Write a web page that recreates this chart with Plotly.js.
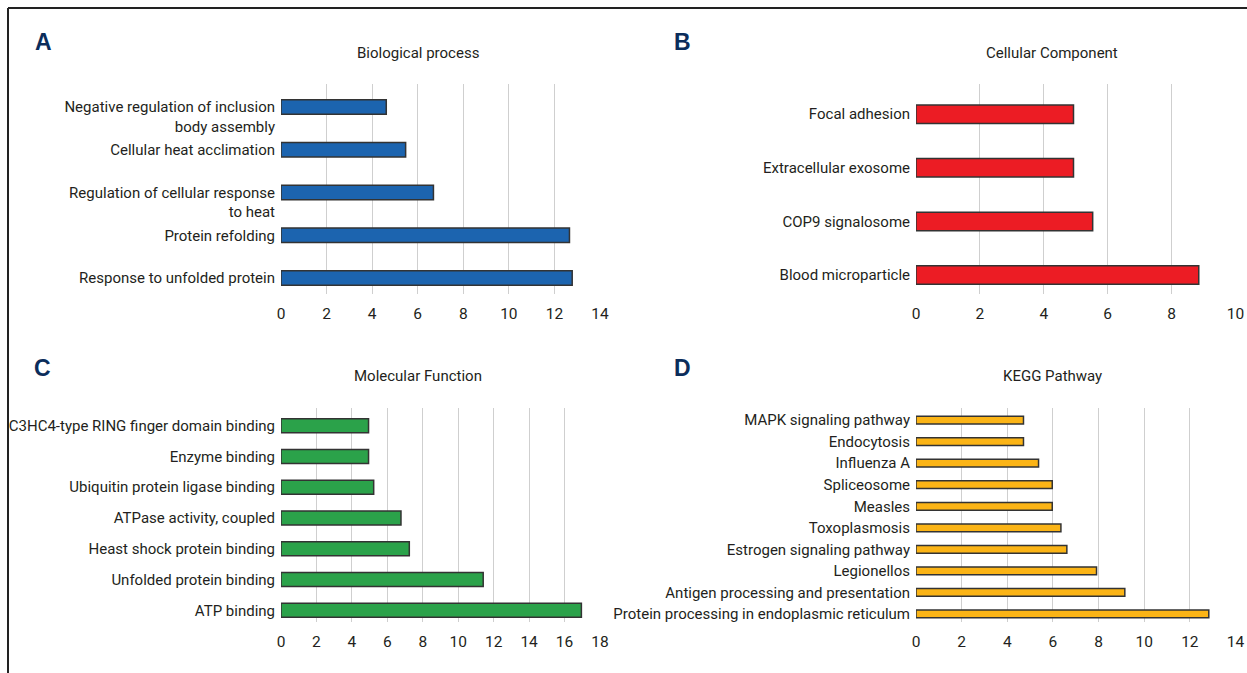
<!DOCTYPE html>
<html>
<head>
<meta charset="utf-8">
<script src="https://cdn.plot.ly/plotly-3.0.1.min.js"></script>
<style>
  html, body { margin: 0; padding: 0; background: #ffffff; }
  #chart { width: 1247px; height: 673px; }
</style>
</head>
<body>
<div id="chart"></div>
<script>
// ---------- Data (listed top to bottom as displayed) ----------
const bpCategories = [
  " <br>Negative regulation of inclusion<br>body assembly",
  "Cellular heat acclimation",
  " <br>Regulation of cellular response<br>to heat",
  "Protein refolding",
  "Response to unfolded protein"
];
const bpValues = [4.62, 5.47, 6.69, 12.66, 12.78];

const ccCategories = [
  "Focal adhesion",
  "Extracellular exosome",
  "COP9 signalosome",
  "Blood microparticle"
];
const ccValues = [4.93, 4.93, 5.53, 8.85];

const mfCategories = [
  "C3HC4-type RING finger domain binding",
  "Enzyme binding",
  "Ubiquitin protein ligase binding",
  "ATPase activity, coupled",
  "Heast shock protein binding",
  "Unfolded protein binding",
  "ATP binding"
];
const mfValues = [4.94, 4.94, 5.23, 6.77, 7.24, 11.41, 16.95];

const keggCategories = [
  "MAPK signaling pathway",
  "Endocytosis",
  "Influenza A",
  "Spliceosome",
  "Measles",
  "Toxoplasmosis",
  "Estrogen signaling pathway",
  "Legionellos",
  "Antigen processing and presentation",
  "Protein processing in endoplasmic reticulum"
];
const keggValues = [4.71, 4.71, 5.37, 5.97, 5.97, 6.35, 6.61, 7.91, 9.15, 12.83];

const panelTitles = ["Biological process", "Cellular Component", "Molecular Function", "KEGG Pathway"];
const panelLetters = ["A", "B", "C", "D"];

// ---------- Layout helpers ----------
const W = 1247, H = 673;
const px = x => x / W;
const py = y => 1 - y / H;
const FONT = 'Roboto, "Liberation Sans", Arial, sans-serif';
const TXT = '#231f20';
const OUTLINE = { color: '#333333', width: 1.5 };

function bar(cats, vals, color, width, xa, ya) {
  return {
    type: 'bar', orientation: 'h',
    x: vals, y: cats,
    xaxis: xa, yaxis: ya,
    width: width,
    marker: { color: color, line: OUTLINE },
    hoverinfo: 'x+y',
    showlegend: false
  };
}

const data = [
  bar(bpCategories, bpValues, '#1c64af', 0.34, 'x', 'y'),
  bar(ccCategories, ccValues, '#ec1c24', 0.345, 'x2', 'y2'),
  bar(mfCategories, mfValues, '#2ba24a', 0.455, 'x3', 'y3'),
  bar(keggCategories, keggValues, '#fbb416', 0.36, 'x4', 'y4')
];

function xAxis(domain, max, anchor) {
  return {
    domain: domain, anchor: anchor,
    range: [0, max], dtick: 2, tick0: 0,
    showgrid: true, gridcolor: '#cfcfcf', gridwidth: 1,
    zeroline: false, showline: false,
    ticks: 'outside', ticklen: 5, tickcolor: 'rgba(0,0,0,0)',
    tickfont: { family: FONT, size: 15.5, color: TXT },
    automargin: false, fixedrange: true
  };
}
function yAxis(domain, range, anchor) {
  return {
    domain: domain, anchor: anchor,
    type: 'category', range: range,
    showgrid: false, zeroline: false, showline: false,
    ticks: '', ticklabelstandoff: 5,
    tickfont: { family: FONT, size: 15, color: TXT },
    automargin: false, fixedrange: true
  };
}

const yTop = [py(294), py(84)];
const yBot = [py(622), py(408)];
const xLeft = [px(281), px(600)];
const xRight = [px(916), px(1235.5)];

const annotations = [];
const titlePos = [[418, 53], [1052, 53], [418, 376], [1052, 376]];
const letterPos = [[43, 42], [683, 42], [42, 368], [683, 368]];
for (let i = 0; i < 4; i++) {
  annotations.push({
    xref: 'paper', yref: 'paper',
    x: px(titlePos[i][0]), y: py(titlePos[i][1]),
    xanchor: 'center', yanchor: 'middle',
    text: panelTitles[i], showarrow: false,
    font: { family: FONT, size: 15, color: TXT }
  });
  annotations.push({
    xref: 'paper', yref: 'paper',
    x: px(letterPos[i][0]), y: py(letterPos[i][1]),
    xanchor: 'center', yanchor: 'middle',
    text: '<b>' + panelLetters[i] + '</b>', showarrow: false,
    font: { family: '"Liberation Sans", Arial, sans-serif', size: 23, color: '#0b2d5b' }
  });
}

const layout = {
  width: W, height: H,
  margin: { l: 0, r: 0, t: 0, b: 0 },
  paper_bgcolor: '#ffffff', plot_bgcolor: 'rgba(0,0,0,0)',
  font: { family: FONT, size: 15, color: TXT },
  showlegend: false,
  xaxis: xAxis(xLeft, 14, 'y'),
  yaxis: yAxis(yTop, [4.374, -0.538], 'x'),
  xaxis2: xAxis(xRight, 10, 'y2'),
  yaxis2: yAxis(yTop, [3.354, -0.563], 'x2'),
  xaxis3: xAxis(xLeft, 18, 'y3'),
  yaxis3: yAxis(yBot, [6.38, -0.575], 'x3'),
  xaxis4: xAxis(xRight, 14, 'y4'),
  yaxis4: yAxis(yBot, [9.38, -0.567], 'x4'),
  annotations: annotations,
  shapes: [
    { type: 'line', xref: 'paper', yref: 'paper', x0: px(8), x1: 1, y0: py(8), y1: py(8),
      line: { color: '#222222', width: 2 } },
    { type: 'line', xref: 'paper', yref: 'paper', x0: px(8), x1: px(8), y0: py(8), y1: 0,
      line: { color: '#222222', width: 2 } }
  ]
};

Plotly.newPlot('chart', data, layout, { displayModeBar: false, responsive: false });
</script>
</body>
</html>
